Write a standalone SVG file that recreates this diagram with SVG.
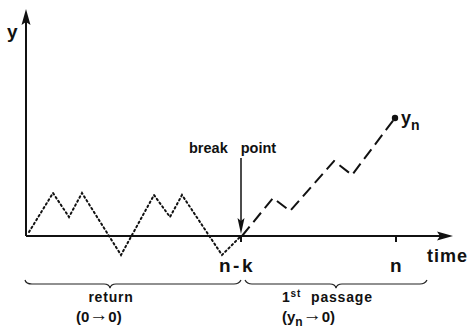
<svg xmlns="http://www.w3.org/2000/svg" width="474" height="335" viewBox="0 0 474 335">
<defs>
<style>
text{font-family:"Liberation Sans",Arial,sans-serif;font-weight:bold;fill:#111}
.ax{stroke:#111;stroke-width:2;fill:none}
.br{stroke:#222;stroke-width:1.2;fill:none}
</style>
</defs>
<rect width="474" height="335" fill="#fff"/>
<g id="axes">
<line class="ax" x1="26" y1="236" x2="26" y2="22"/>
<path d="M26,9 L30.5,25 L26,22 L21.5,25 Z" fill="#111"/>
<line class="ax" x1="26" y1="236" x2="440" y2="236"/>
<path d="M453,236 L437,231.5 L440,236 L437,240.5 Z" fill="#111"/>
<line class="ax" x1="241" y1="236" x2="241" y2="242"/>
<line class="ax" x1="396" y1="236" x2="396" y2="242"/>
<text x="7" y="38" font-size="19">y</text>
<text x="427" y="262" font-size="18" letter-spacing="1">time</text>
<text x="219" y="272" font-size="19" letter-spacing="2.5">n-k</text>
<text x="390" y="272" font-size="19">n</text>
</g>
<g id="connectors">
<path d="M29,232 L53,193 L69,217 L82,193 L121,255 L154,195 L170,217 L182,195 L222,255 L241,236" fill="none" stroke="#111" stroke-width="2" stroke-dasharray="1.6 3" stroke-linecap="round"/>
<path d="M242,236 L273,198 L290,211 L334,161 L352,175 L395,118" fill="none" stroke="#111" stroke-width="2" stroke-dasharray="12 6"/>
<line x1="241" y1="158" x2="241" y2="222" stroke="#111" stroke-width="1.5"/>
<path d="M241,234 L237.5,218 L241,221 L244.5,218 Z" fill="#111"/>
</g>
<g id="endpoint">
<circle cx="395" cy="118" r="3.2" fill="#111"/>
<text x="401" y="124" font-size="18">y<tspan font-size="14" dy="6">n</tspan></text>
</g>
<g id="breakpoint">
<text x="189" y="153" font-size="14.5" word-spacing="9">break point</text>
</g>
<g id="return">
<path class="br" d="M25,280 Q26,284 32,284 L104,284 Q109,284 110,288 Q111,284 116,284 L234,284 Q239,284 241,280"/>
<text x="111" y="302" font-size="14" text-anchor="middle" letter-spacing="0.8">return</text>
<text x="76" y="322" font-size="15">(0<tspan font-size="19" dy="-1">→</tspan><tspan dy="1">0)</tspan></text>
</g>
<g id="passage">
<path class="br" d="M245,280 Q247,284 252,284 L330,284 Q335,284 336,288 Q337,284 342,284 L420,284 Q425,284 427,280"/>
<text x="282" y="302" font-size="14" letter-spacing="0.8">1<tspan font-size="10" dy="-5">st</tspan><tspan dy="5" dx="10">passage</tspan></text>
<text x="282" y="322" font-size="15">(y<tspan font-size="12" dy="4">n</tspan><tspan font-size="19" dy="-5">→</tspan><tspan dy="1">0)</tspan></text>
</g>
</svg>
